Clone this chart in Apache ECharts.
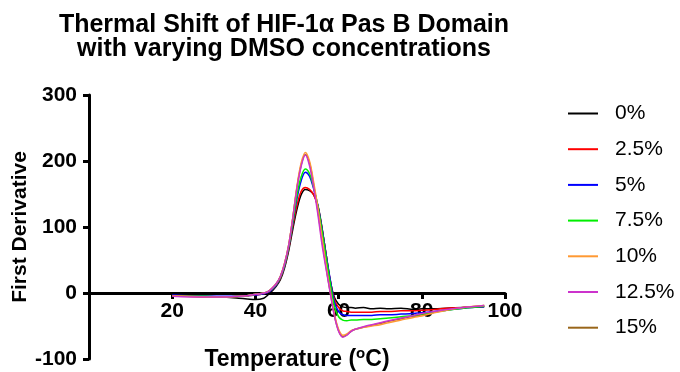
<!DOCTYPE html>
<html>
<head>
<meta charset="utf-8">
<script src="https://cdn.jsdelivr.net/npm/echarts@6/dist/echarts.min.js"></script>
<style>
  html, body { margin: 0; padding: 0; background: #fff; }
  #chart { width: 680px; height: 372px; }
</style>
</head>
<body>
<div id="chart"></div>
<script>
// Temperatures (°C) shared by every curve
const temps = [20, 24, 28, 32, 36, 38, 40, 42, 43, 44, 45, 46, 47, 48, 49, 50, 51, 52, 53, 54, 55,
  56, 57, 58, 59, 60, 61, 62, 63, 64, 66, 68, 70, 72, 75, 78, 80, 83, 86, 90, 95];

// First derivative values, one array per DMSO concentration
const dmso0 = [-4, -5, -5, -6, -8, -9, -10, -8, -3, 3, 10, 20, 38, 64, 97, 127, 149, 157, 155, 149, 133,
  99, 58, 18, -7, -17, -21, -22, -22, -23, -22, -24, -23, -24, -23, -25, -24, -24, -23, -22, -21];
const dmso2_5 = [-4, -5, -6, -6, -5, -4, -3, -1, 1, 5, 12, 22, 40, 67, 102, 133, 154, 160, 157, 149, 131,
  98, 58, 19, -10, -22, -27, -28, -29, -29, -29, -29, -28, -28, -27, -27, -26, -25, -23, -22, -20];
const dmso5 = [-3, -4, -5, -5, -5, -4, -3, -1, 1, 5, 12, 23, 41, 69, 106, 143, 170, 183, 177, 158, 133,
  98, 58, 20, -14, -28, -33, -34, -34, -34, -34, -34, -33, -33, -32, -31, -30, -28, -26, -23, -21];
const dmso7_5 = [-4, -5, -5, -6, -5, -4, -2, 0, 2, 6, 13, 24, 42, 70, 108, 148, 176, 188, 181, 160, 132,
  95, 54, 15, -20, -36, -41, -42, -41, -41, -40, -40, -39, -38, -36, -34, -32, -29, -26, -23, -20];
const dmso10 = [-4, -5, -6, -6, -5, -4, -2, 0, 2, 7, 14, 25, 45, 73, 115, 162, 197, 213, 200, 168, 130,
  85, 42, 3, -32, -55, -64, -62, -57, -55, -52, -50, -48, -45, -41, -37, -35, -30, -26, -22, -19];
const dmso12_5 = [-5, -6, -6, -6, -5, -4, -2, 0, 2, 7, 14, 25, 44, 72, 114, 159, 192, 209, 193, 160, 120,
  74, 36, 0, -35, -58, -67, -64, -58, -55, -51, -48, -45, -42, -38, -34, -31, -28, -25, -22, -19];
const dmso15 = [-4, -5, -6, -6, -5, -4, -2, 0, 2, 7, 14, 25, 44, 72, 114, 160, 194, 210, 197, 164, 125,
  80, 39, 1, -34, -57, -66, -63, -58, -55, -52, -49, -46, -43, -39, -35, -33, -29, -25, -22, -19];

const seriesNames = ['0%', '2.5%', '5%', '7.5%', '10%', '12.5%', '15%'];
const seriesValues = [dmso0, dmso2_5, dmso5, dmso7_5, dmso10, dmso12_5, dmso15];
const seriesColors = ['#000000', '#ff0000', '#0000ff', '#00ee00', '#ff9933', '#cc33cc', '#99661a'];

const xTicks = { min: 0, max: 100, interval: 20 };
const yTicks = { min: -100, max: 300, interval: 100 };

const FONT = '"Liberation Sans", Arial, sans-serif';

// plot box in pixels; the x axis sits on y = 0
const PLOT = { left: 89, right: 175, top: 95, bottom: 13 };
const zeroFromBottom = PLOT.bottom + (372 - PLOT.top - PLOT.bottom) * (0 - yTicks.min) / (yTicks.max - yTicks.min);

const chart = echarts.init(document.getElementById('chart'), null, { renderer: 'canvas' });

const series = seriesNames.map((name, i) => ({
  name,
  type: 'line',
  xAxisIndex: 0,
  yAxisIndex: 0,
  data: temps.map((t, k) => [t, seriesValues[i][k]]),
  showSymbol: false,
  symbol: 'none',
  smooth: 0.35,
  z: name === '15%' ? 1 : 2,
  lineStyle: { color: seriesColors[i], width: 1.5 },
  itemStyle: { color: seriesColors[i] },
}));

chart.setOption({
  animation: false,
  backgroundColor: '#fff',
  title: {
    text: 'Thermal Shift of HIF-1α Pas B Domain\nwith varying DMSO concentrations',
    left: 284,
    top: 13,
    padding: 0,
    textAlign: 'center',
    textStyle: { fontFamily: FONT, fontWeight: 'bold', fontSize: 25, lineHeight: 24, color: '#000' },
  },
  legend: {
    orient: 'vertical',
    left: 568,
    top: 103,
    padding: 0,
    itemGap: 14.7,
    itemWidth: 30,
    itemHeight: 2,
    icon: 'rect',
    data: seriesNames,
    textStyle: { fontFamily: FONT, fontSize: 21, lineHeight: 21, color: '#000', padding: [0, 0, 0, 12] },
  },
  grid: [
    { left: PLOT.left, right: PLOT.right, top: PLOT.top, bottom: PLOT.bottom, outerBoundsMode: 'none' },
    // overlay grid whose bottom edge is y = 0, carries the visible x axis
    { left: PLOT.left, right: PLOT.right, top: PLOT.top, bottom: zeroFromBottom, outerBoundsMode: 'none' },
  ],
  xAxis: [
    { type: 'value', gridIndex: 0, min: xTicks.min, max: xTicks.max, interval: xTicks.interval, show: false },
    {
      type: 'value',
      gridIndex: 1,
      min: xTicks.min,
      max: xTicks.max,
      interval: xTicks.interval,
      position: 'bottom',
      name: 'Temperature ({sup|o}C)',
      nameLocation: 'middle',
      nameGap: 53,
      nameMoveOverlap: false,
      nameTextStyle: {
        fontFamily: FONT, fontWeight: 'bold', fontSize: 23, color: '#000',
        rich: { sup: { fontFamily: FONT, fontWeight: 'bold', fontSize: 15, color: '#000', padding: [0, 0, 13, 0] } },
      },
      axisLine: { show: true, onZero: false, lineStyle: { color: '#000', width: 3 } },
      axisTick: { show: true, length: 6, lineStyle: { color: '#000', width: 3 } },
      axisLabel: {
        margin: 8, color: '#000', fontFamily: FONT, fontWeight: 'bold', fontSize: 21,
        formatter: v => (v === 0 ? '' : String(v)),
      },
      splitLine: { show: false },
    },
  ],
  yAxis: [
    {
      type: 'value',
      gridIndex: 0,
      min: yTicks.min,
      max: yTicks.max,
      interval: yTicks.interval,
      name: 'First Derivative',
      nameLocation: 'middle',
      nameGap: 58,
      nameMoveOverlap: false,
      nameTextStyle: { fontFamily: FONT, fontWeight: 'bold', fontSize: 21, color: '#000' },
      axisLine: { show: true, onZero: false, lineStyle: { color: '#000', width: 3 } },
      axisTick: { show: true, length: 6, lineStyle: { color: '#000', width: 3 } },
      axisLabel: { margin: 12, color: '#000', fontFamily: FONT, fontWeight: 'bold', fontSize: 21 },
      splitLine: { show: false },
    },
    { type: 'value', gridIndex: 1, min: 0, max: 300, show: false },
  ],
  series,
});
</script>
</body>
</html>
